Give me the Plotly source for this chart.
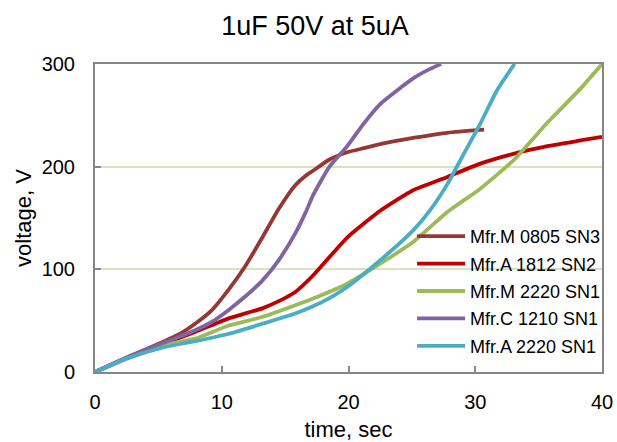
import plotly.graph_objects as go

# ---- data ----
names = ["Mfr.M 0805 SN3", "Mfr.A 1812 SN2", "Mfr.M 2220 SN1", "Mfr.C 1210 SN1", "Mfr.A 2220 SN1"]
colors = ["#953735", "#C00000", "#9BBB59", "#8064A2", "#4BACC6"]

t_m0805 = [0, 2.6, 5.3, 6.6, 7.9, 9.2, 10.5, 11.8, 13.2, 14.5, 15.8, 16.6, 17.2, 18.5, 19.9, 21.2, 22.5, 25.1, 27.8, 30.7]
v_m0805 = [0, 14.6, 29, 36.5, 47, 60, 79.5, 102, 131, 159, 182, 191, 196, 207, 214, 218, 222, 228, 233, 236]

t_a1812 = [0, 2.6, 5.3, 7.9, 10.5, 13.2, 14.5, 15.8, 17.2, 18.5, 19.9, 22.5, 25.1, 27.8, 30.4, 33.0, 35.7, 38.3, 40]
v_a1812 = [0, 14, 27, 39, 52, 62, 69, 78, 94, 112, 131, 157, 177, 190, 203, 212.5, 220, 225.5, 229]

t_m2220 = [0, 2.6, 5.3, 7.9, 10.5, 13.2, 15.8, 17.2, 19.9, 22.5, 25.1, 27.8, 30.4, 33.0, 35.7, 38.3, 40]
v_m2220 = [0, 14, 26, 32.5, 45, 53.6, 65, 71.5, 86, 105.5, 126.6, 155.8, 178.6, 206, 243, 276, 300]

t_c1210 = [0, 2.6, 5.3, 6.6, 7.9, 9.2, 10.5, 11.8, 13.2, 14.5, 15.8, 16.6, 17.2, 18.5, 19.9, 21.2, 22.5, 23.8, 25.1, 26.4, 27.3]
v_c1210 = [0, 14.6, 28, 34, 40.6, 48.7, 60, 73, 89, 109, 135, 155, 172, 200, 220, 242, 261, 274, 286, 295, 300]

t_a2220 = [0, 2.6, 5.3, 7.9, 10.5, 13.2, 15.8, 17.2, 18.5, 19.9, 22.5, 25.1, 26.4, 27.8, 29.1, 30.4, 31.7, 33.1]
v_a2220 = [0, 13.5, 23.7, 30, 37, 47, 57, 64, 72, 82.8, 108.8, 138, 157, 183, 212.6, 242, 274, 300]

series_t = [t_m0805, t_a1812, t_m2220, t_c1210, t_a2220]
series_v = [v_m0805, v_a1812, v_m2220, v_c1210, v_a2220]

x_ticks = [0, 10, 20, 30, 40]
y_ticks = [0, 100, 200, 300]

fig = go.Figure()
for i, (name, col, t, v) in enumerate(zip(names, colors, series_t, series_v)):
    fig.add_trace(go.Scatter(x=t, y=v, mode="lines", name=name, legendgroup=f"g{i}",
                             line=dict(color=col, width=3.8, shape="spline", smoothing=0.5)))

font_family = "Liberation Sans, Arial, sans-serif"
axis_common = dict(showline=True, linecolor="#868686", linewidth=2, mirror=True,
                   ticks="inside", ticklen=6, tickcolor="#868686", tickwidth=1.5,
                   zeroline=False, automargin=False,
                   tickfont=dict(size=20, color="#000000", family=font_family))

fig.update_xaxes(range=[0, 40], tickvals=x_ticks, showgrid=False, ticklabelstandoff=11,
                 title=dict(text="time, sec", font=dict(size=22, color="#000000", family=font_family), standoff=12),
                 **axis_common)
fig.update_yaxes(range=[0, 300], tickvals=y_ticks, showgrid=True, gridcolor="#D7E4BD", gridwidth=1.5,
                 ticklabelstandoff=14,
                 title=dict(text="voltage, V", font=dict(size=22, color="#000000", family=font_family), standoff=4),
                 **axis_common)

fig.update_layout(
    width=617, height=442,
    margin=dict(l=95, r=15, t=64, b=70, autoexpand=False),
    paper_bgcolor="white", plot_bgcolor="white",
    font=dict(family=font_family, color="#000000"),
    title=dict(text="1uF 50V at 5uA", x=0.5105, xanchor="center", y=0.943, yanchor="middle",
               font=dict(size=27, family=font_family, color="#000000")),
    legend=dict(x=1.008, y=0.50, xanchor="right", yanchor="top", bgcolor="rgba(0,0,0,0)",
                font=dict(size=18, family=font_family, color="#000000"), itemwidth=48,
                tracegroupgap=1),
    showlegend=True,
)

fig.write_html("out.html")
